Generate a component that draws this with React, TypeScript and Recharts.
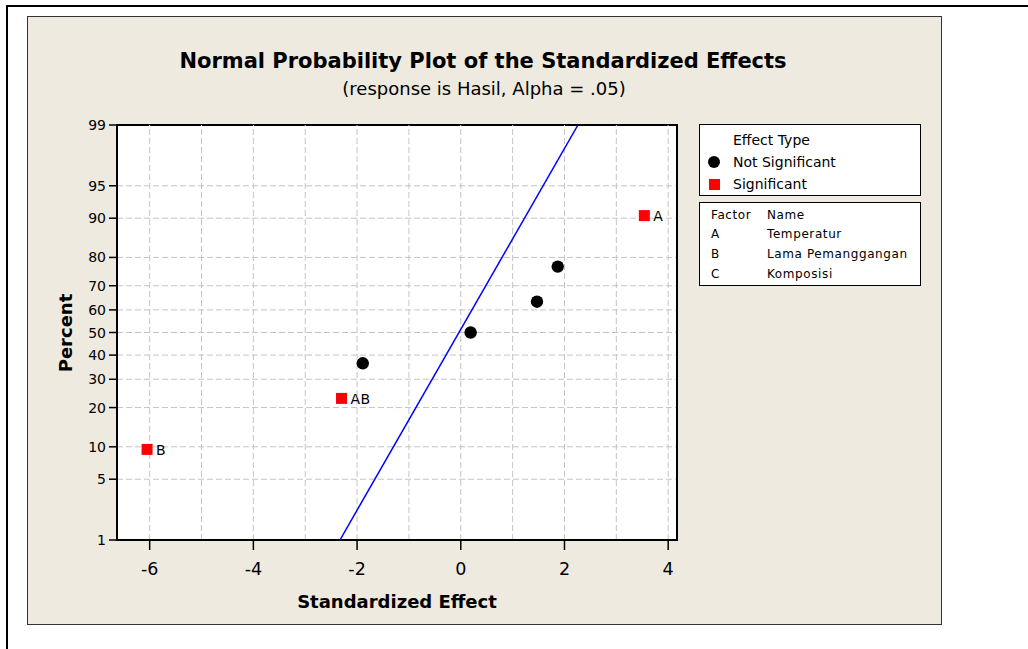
import React from "react";
import {
  ScatterChart,
  Scatter,
  XAxis,
  YAxis,
  CartesianGrid,
  ReferenceLine,
  ReferenceArea,
} from "recharts";

// effects (standardized effect, percent)
const SIG_LABELS = ["B", "AB", "A"];
const SIG_EFFECT = [-6.05, -2.3, 3.54];
const SIG_PERCENT = [9.5, 23.0, 90.5];

const NS_EFFECT = [-1.89, 0.19, 1.47, 1.87];
const NS_PERCENT = [36.5, 50, 63.5, 77.0];

// fitted reference line
const FIT_EFFECT = [-2.33, 2.26];
const FIT_PERCENT = [1, 99];

const X_TICKS = [-6, -4, -2, 0, 2, 4];
const X_GRID = [-6, -5, -4, -3, -2, -1, 0, 1, 2, 3, 4];
const X_DOMAIN = [-6.63, 4.17];
const PERCENT_TICKS = [1, 5, 10, 20, 30, 40, 50, 60, 70, 80, 90, 95, 99];

const FACTORS = ["A", "B", "C"];
const FACTOR_NAMES = ["Temperatur", "Lama Pemanggangan", "Komposisi"];

const FONT = "'DejaVu Sans', Verdana, sans-serif";

// inverse normal cdf (Acklam) -> probability paper scale
function probit(p: number): number {
  const a = [-39.69683028665376, 220.9460984245205, -275.9285104469687, 138.357751867269, -30.66479806614716, 2.506628277459239];
  const b = [-54.47609879822406, 161.5858368580409, -155.6989798598866, 66.80131188771972, -13.28068155288572];
  const c = [-0.007784894002430293, -0.3223964580411365, -2.400758277161838, -2.549732539343734, 4.374664141464968, 2.938163982698783];
  const d = [0.007784695709041462, 0.3224671290700398, 2.445134137142996, 3.754408661907416];
  const pl = 0.02425;
  if (p < pl) {
    const q = Math.sqrt(-2 * Math.log(p));
    return (((((c[0] * q + c[1]) * q + c[2]) * q + c[3]) * q + c[4]) * q + c[5]) /
      ((((d[0] * q + d[1]) * q + d[2]) * q + d[3]) * q + 1);
  }
  if (p > 1 - pl) {
    const q = Math.sqrt(-2 * Math.log(1 - p));
    return -(((((c[0] * q + c[1]) * q + c[2]) * q + c[3]) * q + c[4]) * q + c[5]) /
      ((((d[0] * q + d[1]) * q + d[2]) * q + d[3]) * q + 1);
  }
  const q = p - 0.5;
  const r = q * q;
  return (((((a[0] * r + a[1]) * r + a[2]) * r + a[3]) * r + a[4]) * r + a[5]) * q /
    (((((b[0] * r + b[1]) * r + b[2]) * r + b[3]) * r + b[4]) * r + 1);
}

const Y_LO = probit(0.01);
const Y_HI = probit(0.99);
const Y_TICKS = PERCENT_TICKS.map((p) => probit(p / 100));

const sigData = SIG_EFFECT.map((x, i) => ({ x, z: probit(SIG_PERCENT[i] / 100), label: SIG_LABELS[i] }));
const nsData = NS_EFFECT.map((x, i) => ({ x, z: probit(NS_PERCENT[i] / 100) }));
const fitData = FIT_EFFECT.map((x, i) => ({ x, z: probit(FIT_PERCENT[i] / 100) }));

const pctLabel = (v: number) => {
  let best = 0;
  Y_TICKS.forEach((t, i) => {
    if (Math.abs(t - v) < Math.abs(Y_TICKS[best] - v)) best = i;
  });
  return String(PERCENT_TICKS[best]);
};

const SigMark = (props: any) => {
  const { cx, cy, payload } = props;
  return (
    <g>
      <rect x={cx - 5.5} y={cy - 5.5} width={11} height={11} fill="#ff0000" />
      <text x={cx + 9} y={cy} dy="0.38em" fontSize={14} fontFamily={FONT} fill="#000" letterSpacing={0.5}>
        {payload.label}
      </text>
    </g>
  );
};

const DotMark = (props: any) => <circle cx={props.cx} cy={props.cy} r={6.2} fill="#000" />;
const NoMark = () => <g />;

const YTick = (props: any) => {
  const { x, y, payload } = props;
  return (
    <text x={x} y={y} dy="0.36em" textAnchor="end" fontSize={14} fontFamily={FONT} fill="#000">
      {pctLabel(payload.value)}
    </text>
  );
};

function Txt({ x, y, fs, children, bold, align, w }: any) {
  // y = baseline
  const style: React.CSSProperties = {
    position: "absolute",
    top: y - 0.846 * fs,
    fontSize: fs,
    lineHeight: `${fs}px`,
    fontWeight: bold ? "bold" : "normal",
    whiteSpace: "nowrap",
    color: "#000",
  };
  if (align === "center") {
    style.left = x - w / 2;
    style.width = w;
    style.textAlign = "center";
  } else {
    style.left = x;
  }
  return <div style={style}>{children}</div>;
}

export default function App() {
  const gridStroke = "#c4c4c4";
  return (
    <div style={{ position: "absolute", left: 0, top: 0, width: 1028, height: 649, background: "#fff", fontFamily: FONT, overflow: "hidden" }}>
      {/* outer frame */}
      <div style={{ position: "absolute", left: 6, top: 5, right: -10, bottom: -10, borderLeft: "2px solid #000", borderTop: "2px solid #000" }} />
      {/* graph panel */}
      <div style={{ position: "absolute", left: 27, top: 16, width: 915, height: 609, boxSizing: "border-box", background: "#eeeae0", border: "1px solid #333" }} />

      <Txt x={483} y={68.5} fs={21} bold align="center" w={800}>Normal Probability Plot of the Standardized Effects</Txt>
      <Txt x={484} y={95} fs={18} align="center" w={600}>(response is Hasil, Alpha = .05)</Txt>
      <Txt x={397} y={608} fs={18} bold align="center" w={400}>Standardized Effect</Txt>
      <div
        style={{
          position: "absolute",
          left: 66 - 100,
          top: 333 - 9,
          width: 200,
          height: 18,
          lineHeight: "18px",
          fontSize: 18,
          fontWeight: "bold",
          textAlign: "center",
          transform: "rotate(-90deg)",
        }}
      >
        Percent
      </div>

      <div style={{ position: "absolute", left: 0, top: 0 }}>
        <ScatterChart width={1028} height={649} margin={{ top: 125, right: 351, bottom: 59, left: 57 }}>
          <CartesianGrid vertical={false} fill="#fff" stroke={gridStroke} strokeDasharray="6 3" />
          <XAxis
            type="number"
            dataKey="x"
            domain={X_DOMAIN}
            ticks={X_TICKS}
            height={50}
            allowDataOverflow
            interval={0}
            axisLine={{ stroke: "#000", strokeWidth: 2 }}
            tickLine={{ stroke: "#000", strokeWidth: 1.5 }}
            tickSize={10}
            tickMargin={13}
            tick={{ fontSize: 17.5, fill: "#000", fontFamily: FONT }}
          />
          <YAxis
            type="number"
            dataKey="z"
            domain={[Y_LO, Y_HI]}
            ticks={Y_TICKS}
            width={60}
            allowDataOverflow
            interval={0}
            axisLine={{ stroke: "#000", strokeWidth: 2 }}
            tickLine={{ stroke: "#000", strokeWidth: 1.5 }}
            tickSize={8}
            tickMargin={3}
            tick={<YTick />}
          />
          {X_GRID.map((v) => (
            <ReferenceLine key={v} x={v} stroke={gridStroke} strokeDasharray="6 3" />
          ))}
          <ReferenceArea x1={X_DOMAIN[0]} x2={X_DOMAIN[1]} y1={Y_LO} y2={Y_HI} fill="none" stroke="#000" strokeWidth={2} fillOpacity={0} />
          <Scatter data={fitData} line={{ stroke: "#0000ff", strokeWidth: 1.5 }} shape={NoMark} isAnimationActive={false} />
          <Scatter data={nsData} shape={DotMark} isAnimationActive={false} />
          <Scatter data={sigData} shape={SigMark} isAnimationActive={false} />
        </ScatterChart>
      </div>

      {/* legend: effect type */}
      <div style={{ position: "absolute", left: 699, top: 124, width: 222, height: 72, boxSizing: "border-box", border: "1.5px solid #000", background: "#fff" }} />
      <Txt x={733} y={145} fs={14}>Effect Type</Txt>
      <div style={{ position: "absolute", left: 714 - 6.2, top: 161.7 - 6.2, width: 12.4, height: 12.4, borderRadius: "50%", background: "#000" }} />
      <Txt x={733} y={166.5} fs={14}>Not Significant</Txt>
      <div style={{ position: "absolute", left: 714 - 5.5, top: 184 - 5.5, width: 11, height: 11, background: "#ff0000" }} />
      <Txt x={733} y={189} fs={14}>Significant</Txt>

      {/* legend: factor names */}
      <div style={{ position: "absolute", left: 699, top: 202, width: 222, height: 84, boxSizing: "border-box", border: "1.5px solid #000", background: "#fff" }} />
      <div style={{ position: "absolute", left: 711, top: 0, letterSpacing: 0.6 }}>
        <Txt x={0} y={219.5} fs={12}>Factor</Txt>
        <Txt x={56} y={219.5} fs={12}>Name</Txt>
        {FACTORS.map((f, i) => (
          <React.Fragment key={f}>
            <Txt x={0} y={238.5 + i * 20} fs={12}>{f}</Txt>
            <Txt x={56} y={238.5 + i * 20} fs={12}>{FACTOR_NAMES[i]}</Txt>
          </React.Fragment>
        ))}
      </div>
    </div>
  );
}
